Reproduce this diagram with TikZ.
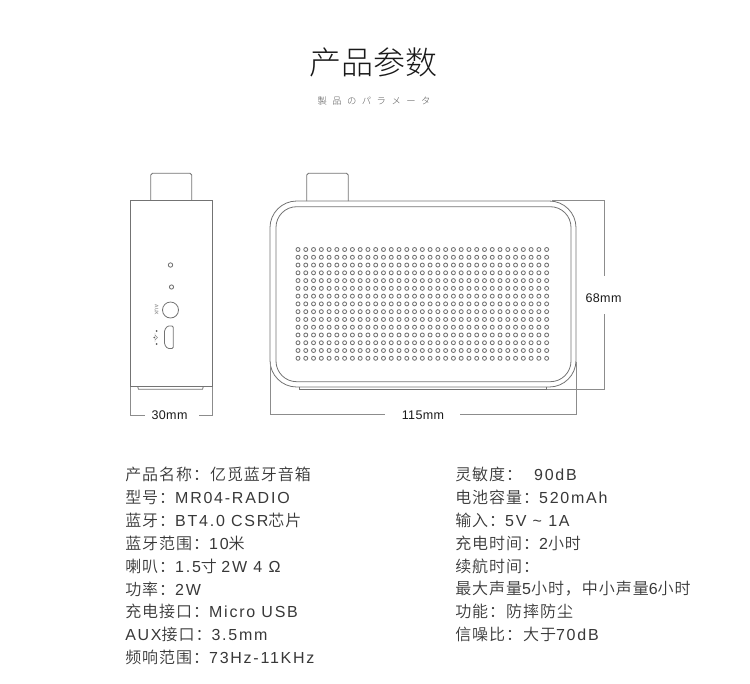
\documentclass[tikz,border=0pt]{standalone}
\usepackage{fontspec}
\setmainfont[LetterSpace=6]{Noto Sans CJK SC DemiLight}
\newfontfamily\cjk[LetterSpace=6]{Noto Sans CJK SC DemiLight}
\newfontfamily\titlefont{Noto Sans CJK SC Light}
\newfontfamily\latn[LetterSpace=11]{Liberation Sans}
\newfontfamily\dimfont[LetterSpace=3]{Liberation Sans}
\tikzset{
  body/.style={draw=black!55,line width=0.6pt},
  dim/.style={draw=black!45,line width=0.5pt},
  spec/.style={anchor=west,inner sep=0pt,font=\fontsize{12pt}{14pt}\selectfont,text=black!78},
  dimlabel/.style={inner sep=0pt,font=\dimfont\fontsize{9.4pt}{11pt}\selectfont,text=black!90},
  holeo/.style={draw=black!55,line width=0.65pt},
}
\begin{document}
\begin{tikzpicture}[x=0.75pt,y=-0.75pt]
\useasboundingbox (0,0) rectangle (750,683);
\node[inner sep=0pt,text=black!90,font=\titlefont\fontsize{24pt}{28pt}\selectfont] (title) at (373.5,62) {产品参数};
\node[inner sep=0pt,text=black!65,font=\titlefont\fontsize{7pt}{8pt}\selectfont] (sub) at (374,101) {製\hspace{4.1pt}品\hspace{4.1pt}の\hspace{4.1pt}パ\hspace{4.1pt}ラ\hspace{4.1pt}メ\hspace{4.1pt}ー\hspace{4.1pt}タ};
% side view
\draw[body] (150.7,200.7) -- (150.7,175) -- (152.5,173.3) -- (190,173.3) -- (191.7,175) -- (191.7,200.7);
\draw[body] (130.7,200.7) rectangle (212.3,386.7);
\draw[body] (137.7,386.7) -- (138.5,389.3) -- (202.5,389.3) -- (203.3,386.7);
\draw[holeo] (170.5,265) circle (2.2);
\draw[holeo] (171.5,287) circle (2.1);
\draw[body] (170.5,310) circle (8);
\draw[body,rounded corners=1pt] (164.5,330) -- (167.5,326) -- (173.3,326) -- (173.3,348.5) -- (167.5,348.5) -- (164.5,344.5) -- cycle;
\node[rotate=-90,inner sep=0pt,text=black!55,font=\dimfont\fontsize{3.8pt}{4pt}\selectfont] (aux) at (156.5,310) {AUX};
\fill[black!65] (156.7,331) circle (1) (154.3,337.5) circle (0.9) (156.7,344) circle (1);
\draw[black!45,line width=0.3pt] (155,333) -- (155,342) (155,335) -- (157.5,337.5) -- (155,340);
% side dimension
\coordinate (a1) at (130.7,386.7); \coordinate (a2) at (212.3,386.7);
\coordinate (b1) at (130.7,415); \coordinate (b2) at (212.3,415);
\coordinate (c1) at (145,415); \coordinate (c2) at (199,415);
\node[dimlabel] (w30) at (169.5,415.5) {30mm};
\draw[dim] (a1) -- (b1) -- (c1);
\draw[dim] (a2) -- (b2) -- (c2);
% front view
\draw[body] (306.7,201) -- (306.7,175) -- (308.5,173.3) -- (346.5,173.3) -- (348.3,175) -- (348.3,201);
\draw[body,rounded corners=20pt] (270,201) rectangle (576,387);
\draw[body,rounded corners=15.5pt] (276,206.7) rectangle (571,381.7);
\draw[body] (299,387) -- (299,389.5) -- (546.5,389.5) -- (546.5,386.5);
\foreach \i in {0,...,32}{\foreach \j in {0,...,14}{
  \draw[holeo] ({298+\i*7.77},{249.5+\j*7.77}) circle (2.0);
}}
% front dimensions
\coordinate (d1) at (270.3,362); \coordinate (d2) at (576,362);
\coordinate (e1) at (270.3,414); \coordinate (e2) at (576,414);
\coordinate (f1) at (385,414); \coordinate (f2) at (460,414);
\node[dimlabel] (w115) at (423,415.5) {115mm};
\draw[dim] (d1) -- (e1) -- (f1);
\draw[dim] (d2) -- (e2) -- (f2);
\coordinate (g1) at (552,200.7); \coordinate (g2) at (604,200.7);
\coordinate (h1) at (604,276); \coordinate (h2) at (604,314);
\coordinate (i1) at (604,389.5); \coordinate (i2) at (546.5,389.5);
\node[dimlabel] (h68) at (603.5,298) {68mm};
\draw[dim] (g1) -- (g2) -- (h1);
\draw[dim] (h2) -- (i1) -- (i2);
% spec text
\node[spec] (l1) at (125,474.5) {产品名称：亿觅蓝牙音箱};
\node[spec] (l2) at (125,497) {型号：\latn MR04-RADIO};
\node[spec] (l3) at (125,520) {蓝牙：\latn BT4.0 CSR\cjk 芯片};
\node[spec] (l4) at (125,543) {蓝牙范围：\latn 10\cjk 米};
\node[spec] (l5) at (125,566) {喇叭：\latn 1.5\cjk 寸 \latn 2W 4 Ω};
\node[spec] (l6) at (125,589) {功率：\latn 2W};
\node[spec] (l7) at (125,611.5) {充电接口：\latn Micro USB};
\node[spec] (l8) at (125,634.5) {\latn AUX\cjk 接口：\latn 3.5mm};
\node[spec] (l9) at (125,657) {频响范围：\latn 73Hz-11KHz};
\node[spec] (r1) at (455,474.5) {灵敏度：\hspace{9pt}\latn 90dB};
\node[spec] (r2) at (455,497) {电池容量：\latn 520mAh};
\node[spec] (r3) at (455,520) {输入：\latn 5V \char"7E\ 1A};
\node[spec] (r4) at (455,543) {充电时间：\latn 2\cjk 小时};
\node[spec] (r5) at (455,566) {续航时间：};
\node[spec] (r6) at (455,589) {最大声量\latn 5\cjk 小时，中小声量\latn 6\cjk 小时};
\node[spec] (r7) at (455,611.5) {功能：防摔防尘};
\node[spec] (r8) at (455,634.5) {信噪比：大于\latn 70dB};
\end{tikzpicture}
\end{document}
